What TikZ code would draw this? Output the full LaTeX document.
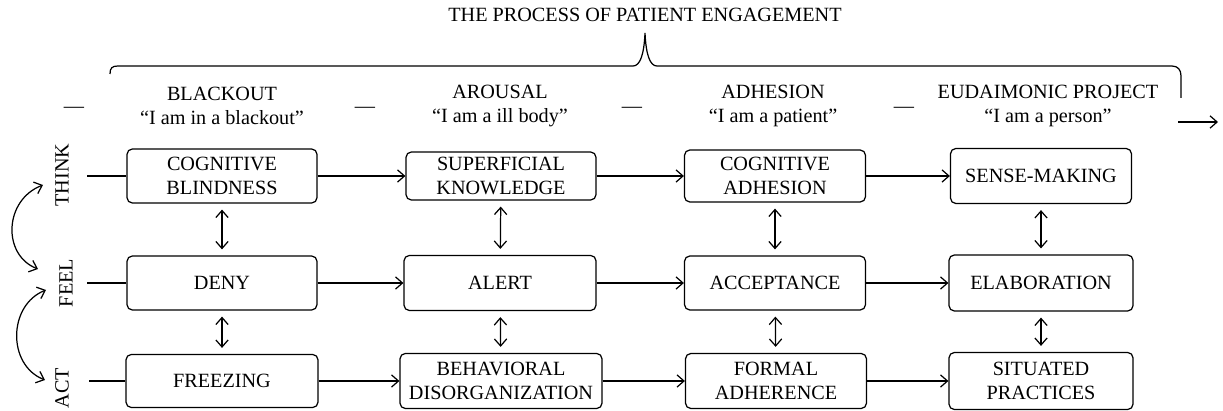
\documentclass[tikz,border=0pt]{standalone}
\usepackage{fontspec}
\setmainfont{Liberation Serif}
\usetikzlibrary{arrows.meta}
\begin{document}
\begin{tikzpicture}[x=0.02cm,y=-0.02cm,line width=0.7pt,
  font=\fontsize{11.5}{14}\selectfont,
  >={Straight Barb[length=4pt,width=7pt]},
  stagebox/.style={draw,rounded corners=3pt,align=center,inner sep=1pt},
  phase/.style={align=center,inner sep=0pt},
  vlink/.style={<->,shorten >=0.12cm,shorten <=0.12cm}]
\useasboundingbox (0,0) rectangle (1223,411);
\node (title) at (645,15) {THE PROCESS OF PATIENT ENGAGEMENT};
\draw (110,74) .. controls (110,68) and (112,66) .. (118,66) -- (633,66)
  .. controls (640,66) and (644,55) .. (645,33)
  .. controls (646,55) and (650,66) .. (657,66) -- (1172,66)
  .. controls (1178,66) and (1181,70) .. (1181,76) -- (1181,98);
\node (dash1) at (74,110) {\textemdash};
\node (dash2) at (365,110) {\textemdash};
\node (dash3) at (632,110) {\textemdash};
\node (dash4) at (904,110) {\textemdash};
\node[phase] (blackout) at (222,106) {BLACKOUT\\``I am in a blackout''};
\node[phase] (arousal) at (500,106) {AROUSAL\\``I am a ill body''};
\node[phase] (adhesion) at (773,106) {ADHESION\\``I am a patient''};
\node[phase] (eudaimonic) at (1048,106) {EUDAIMONIC PROJECT\\``I am a person''};
\coordinate (goS) at (1178,122);
\coordinate (goE) at (1218,122);
\draw[->] (goS) -- (goE);
\node[rotate=90] (think) at (62,175) {THINK};
\node[rotate=90] (feel) at (66,283) {FEEL};
\node[rotate=90] (act) at (62,388) {ACT};
\coordinate (tkA) at (43,185);
\coordinate (flA) at (38,269);
\coordinate (flB) at (46,290);
\coordinate (acB) at (45,380);
\draw[<->] (tkA) .. controls (4,200) and (2,255) .. (flA);
\draw[<->] (flB) .. controls (8,305) and (7,365) .. (acB);
\coordinate (inT) at (87,176);
\coordinate (inF) at (87,283);
\coordinate (inA) at (89,381);
\node[stagebox,minimum width=3.8cm,minimum height=1.08cm] (cogblind) at (222,176) {COGNITIVE\\BLINDNESS};
\node[stagebox,minimum width=3.8cm,minimum height=0.96cm] (superknow) at (501,176) {SUPERFICIAL\\KNOWLEDGE};
\node[stagebox,minimum width=3.62cm,minimum height=1.04cm] (cogadh) at (775,176) {COGNITIVE\\ADHESION};
\node[stagebox,minimum width=3.62cm,minimum height=1.1cm] (sensemak) at (1041,176) {SENSE-MAKING};
\node[stagebox,minimum width=3.8cm,minimum height=1.08cm] (deny) at (222,283) {DENY};
\node[stagebox,minimum width=3.84cm,minimum height=1.1cm] (alert) at (500,283) {ALERT};
\node[stagebox,minimum width=3.62cm,minimum height=1.08cm] (accept) at (775,283) {ACCEPTANCE};
\node[stagebox,minimum width=3.68cm,minimum height=1.12cm] (elab) at (1041,283) {ELABORATION};
\node[stagebox,minimum width=3.84cm,minimum height=1.06cm] (freezing) at (222,381) {FREEZING};
\node[stagebox,minimum width=4.04cm,minimum height=1.1cm] (behav) at (501,381) {BEHAVIORAL\\DISORGANIZATION};
\node[stagebox,minimum width=3.62cm,minimum height=1.1cm] (formal) at (776,381) {FORMAL\\ADHERENCE};
\node[stagebox,minimum width=3.68cm,minimum height=1.14cm] (situated) at (1041,381) {SITUATED\\PRACTICES};
\draw (inT) -- (cogblind);
\draw[->] (cogblind) -- (superknow);
\draw[->] (superknow) -- (cogadh);
\draw[->] (cogadh) -- (sensemak);
\draw (inF) -- (deny);
\draw[->] (deny) -- (alert);
\draw[->] (alert) -- (accept);
\draw[->] (accept) -- (elab);
\draw (inA) -- (freezing);
\draw[->] (freezing) -- (behav);
\draw[->] (behav) -- (formal);
\draw[->] (formal) -- (situated);
\draw[vlink] (cogblind) -- (deny);
\draw[vlink] (deny) -- (freezing);
\draw[vlink] (superknow) -- (alert);
\draw[vlink] (alert) -- (behav);
\draw[vlink] (cogadh) -- (accept);
\draw[vlink] (accept) -- (formal);
\draw[vlink] (sensemak) -- (elab);
\draw[vlink] (elab) -- (situated);
\end{tikzpicture}
\end{document}
